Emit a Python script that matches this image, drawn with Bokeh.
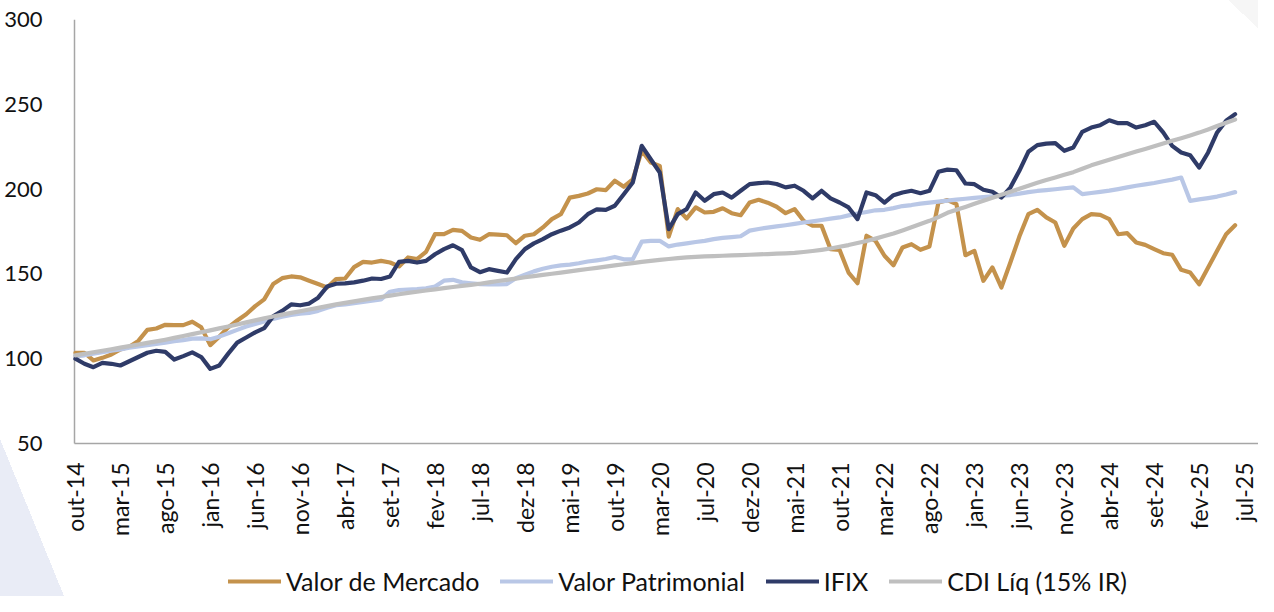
import math
from bokeh.plotting import figure
from bokeh.models import Range1d, FixedTicker, Legend, LegendItem, ColumnDataSource
from bokeh.embed import file_html
from bokeh.resources import INLINE
from bokeh.core.properties import value

tick_labels = ["out-14", "mar-15", "ago-15", "jan-16", "jun-16", "nov-16", "abr-17", "set-17",
               "fev-18", "jul-18", "dez-18", "mai-19", "out-19", "mar-20", "jul-20", "dez-20",
               "mai-21", "out-21", "mar-22", "ago-22", "jan-23", "jun-23", "nov-23", "abr-24",
               "set-24", "fev-25", "jul-25"]

valor_mercado = [
    103.5, 103.5, 99, 100.5, 102.5, 105.5, 107, 110.5, 117, 117.8,
    120, 119.8, 119.8, 121.8, 118.5, 108, 113, 118.5, 122.5, 126.2,
    131, 135, 144, 147.5, 148.5, 148, 146, 144, 142, 146.9,
    147.3, 154, 157.1, 156.7, 157.7, 156.7, 154.4, 159.7, 158.7, 163,
    173.4, 173.4, 176, 175.4, 171.5, 170.1, 173.4, 173.2, 172.8, 168.1,
    172.5, 173.4, 177.4, 182.3, 185.2, 195, 196, 197.4, 199.9, 199.4,
    204.9, 201.4, 205.8, 222.6, 215.7, 213.7, 172, 188.2, 182.7, 189.2,
    186.2, 186.6, 188.7, 185.8, 184.6, 192.1, 193.7, 192, 189.6, 185.8,
    188.2, 181.3, 178.4, 178.4, 164.6, 164.2, 150.8, 144.5, 172.5, 169.5,
    160.7, 155.1, 165.6, 167.5, 164.2, 166.2, 192.1, 193.5, 191.1, 161,
    163.6, 145.9, 153.8, 142, 156.7, 172, 185.2, 187.8, 183.3, 180.3,
    166.6, 176.8, 182.3, 185.2, 184.8, 182.3, 173.4, 174, 168.5, 167.1,
    164.6, 162.2, 161.3, 152.4, 150.8, 143.9, 153.8, 163.6, 173.4, 178.7]

valor_patrimonial = [
    101.3, 102, 103, 103.8, 104.7, 105.5, 106.5, 107.3, 108, 108.7,
    109.5, 110.3, 111, 111.8, 112, 111.5, 113, 115, 117, 119,
    120.5, 122, 123.5, 124.8, 125.8, 126.5, 127, 128.2, 130, 131.5,
    132, 132.8, 133.5, 134.2, 135, 139.5, 140.5, 140.8, 141, 141.5,
    142.5, 146, 146.5, 145, 144.5, 144, 143.8, 143.8, 144, 147.5,
    149.5, 151.5, 153, 154.2, 155, 155.5, 156.3, 157.3, 158, 158.8,
    160, 158.6, 158.6, 169, 169.5, 169.5, 166.2, 167.3, 168, 168.8,
    169.5, 170.5, 171.2, 171.7, 172.2, 175.5, 176.5, 177.3, 178, 178.7,
    179.5, 180.3, 181, 181.8, 182.6, 183.3, 184.5, 185.6, 186.5, 187.5,
    187.8, 188.8, 190, 190.6, 191.4, 192, 192.6, 193.2, 193.8, 194.3,
    194.8, 195.3, 195.7, 196.1, 196.5, 197.3, 198.2, 198.9, 199.4, 199.9,
    200.5, 201, 197, 197.7, 198.4, 199.1, 200, 201, 202, 202.8,
    203.6, 204.6, 205.6, 206.8, 193.1, 193.9, 194.7, 195.6, 196.8, 198.2]

ifix = [
    100, 97, 95, 97.5, 97, 96, 98.5, 101, 103.5, 104.7,
    104, 99.5, 101.5, 103.7, 101, 94, 96, 103, 109.5, 112.5,
    115.5, 118, 125, 128.2, 132, 131.5, 132.5, 136, 142.5, 144.2,
    144.4, 145, 146, 147.3, 147, 148.5, 157.1, 157.7, 156.7, 157.7,
    161.6, 164.6, 166.9, 164, 153.8, 151, 152.8, 151.8, 150.8, 158.7,
    164.6, 168, 170.5, 173.4, 175.5, 177.4, 180.3, 185.2, 188.1, 187.8,
    190.2, 197, 203.9, 225.5, 217.6, 209.8, 176.4, 185.2, 188.2, 198,
    193.1, 197, 198, 195, 199, 202.9, 203.5, 203.9, 203, 201,
    202, 199, 194.5, 199, 194.5, 192.1, 189.2, 182.3, 198, 196.4,
    192, 196.4, 198, 199, 197.6, 199, 210.2, 211.5, 211.1, 203.3,
    202.9, 199.6, 198.4, 195, 200.9, 210.8, 222, 225.9, 226.8, 227.1,
    222.6, 224.5, 233.8, 236.3, 237.7, 240.6, 238.9, 238.9, 236.3, 237.7,
    239.7, 233.4, 225.5, 221.6, 220, 212.7, 221.6, 233.4, 240.3, 244.2]

cdi_liq = [
    102, 102.9, 103.8, 104.7, 105.6, 106.5, 107.4, 108.4, 109.3, 110.2,
    111.2, 112.3, 113.4, 114.5, 115.6, 116.7, 117.9, 119, 120.2, 121.4,
    122.6, 123.8, 124.9, 126, 127, 128, 129, 130, 131, 132,
    132.9, 133.8, 134.7, 135.6, 136.4, 137.2, 138, 138.8, 139.5, 140.2,
    140.9, 141.6, 142.3, 142.9, 143.5, 144.2, 145, 145.8, 146.5, 147.2,
    148, 148.7, 149.4, 150.1, 150.8, 151.5, 152.2, 152.9, 153.6, 154.3,
    155, 155.7, 156.4, 157.1, 157.7, 158.3, 158.8, 159.3, 159.7, 160,
    160.3, 160.5, 160.7, 160.9, 161.1, 161.3, 161.5, 161.7, 161.9, 162.1,
    162.4, 162.9, 163.5, 164.2, 165, 166, 167, 168.2, 169.4, 170.8,
    172.3, 173.8, 175.6, 177.5, 179.4, 181.3, 183.5, 186, 187.8, 189.5,
    191.3, 193.1, 194.9, 196.6, 198.4, 200.2, 202, 203.7, 205.3, 206.8,
    208.4, 210, 212, 214, 215.7, 217.3, 219, 220.6, 222.2, 223.7,
    225.3, 226.9, 228.5, 230, 231.6, 233.3, 235.2, 237.2, 239.1, 241]

series_names = ["Valor de Mercado", "Valor Patrimonial", "IFIX", "CDI Líq (15% IR)"]
series_colors = ["#C4924C", "#B9C7E6", "#2F3B68", "#BFBFBF"]
series_values = [valor_mercado, valor_patrimonial, ifix, cdi_liq]
y_ticks = [50, 100, 150, 200, 250, 300]

FONT = "Lato"
TEXT = "#111111"
AXIS = "#A6A6A6"

# layout (pixels)
FIG_W, FIG_H = 1258, 596
TOP = 19                # canvas y of the 300 line
PLOT_H = 424            # pixel height between 50 and 300
FRAME_LEFT = 58         # frame starts a little left of the value axis so edge labels are not clipped
AXIS_PX = 74            # canvas x of the value axis line
PX_PER_CAT = 8.99       # pixels per month

Y_MIN, Y_MAX = 50, 300
px_per_unit = PLOT_H / (Y_MAX - Y_MIN)
y_floor = Y_MIN - (FIG_H - TOP - PLOT_H) / px_per_unit   # frame reaches the canvas bottom
AXIS_X = -0.1
x_start = AXIS_X - (AXIS_PX - FRAME_LEFT) / PX_PER_CAT
x_end = x_start + (FIG_W - FRAME_LEFT) / PX_PER_CAT

idx = list(range(len(valor_mercado)))
tick_pos = [5 * k for k in range(len(tick_labels))]

p = figure(width=FIG_W, height=FIG_H, output_backend="svg", toolbar_location=None,
           x_range=Range1d(x_start, x_end), y_range=Range1d(y_floor, Y_MAX),
           min_border_left=FRAME_LEFT, min_border_right=0, min_border_top=TOP, min_border_bottom=0)
p.outline_line_color = None
p.xgrid.visible = False
p.ygrid.visible = False
p.background_fill_alpha = 0
p.border_fill_alpha = 0
p.xaxis.visible = False
# decorative corner shapes of the slide background, drawn as CSS behind the transparent canvas
p.styles = {
    "background-color": "white",
    "background-image": ("linear-gradient(to top right, #E9ECF6 50%, rgba(255,255,255,0) 50%), "
                         "linear-gradient(to top right, rgba(255,255,255,0) 50%, #F6F6F6 50%)"),
    "background-size": "64px 157px, 30px 28px",
    "background-position": "left bottom, right top",
    "background-repeat": "no-repeat",
}

ya = p.yaxis[0]
ya.ticker = FixedTicker(ticks=y_ticks)
ya.major_label_standoff = AXIS_PX - FRAME_LEFT
ya.major_label_text_font = FONT
ya.major_label_text_font_size = "22px"
ya.major_label_text_color = TEXT
ya.major_tick_in = 0
ya.major_tick_out = 0
ya.minor_tick_in = 0
ya.minor_tick_out = 0
ya.axis_line_color = None

# axis lines: value axis from 50 to 300, category axis along the 50 line
p.segment(x0=[AXIS_X, AXIS_X], y0=[Y_MIN, Y_MIN], x1=[AXIS_X, x_end], y1=[Y_MAX, Y_MIN],
          line_color=AXIS, line_width=1.5)

# rotated month labels under the category axis
lab_src = ColumnDataSource(dict(x=tick_pos, y=[Y_MIN] * len(tick_pos), t=tick_labels))
p.text(x="x", y="y", text="t", source=lab_src, angle=math.pi / 2, y_offset=19,
       text_align="right", text_baseline="middle", text_font=value(FONT),
       text_font_size="23px", text_color=TEXT)

items = []
for name, col, vals in zip(series_names, series_colors, series_values):
    r = p.line(idx, vals, line_color=col, line_width=4.2, line_join="round", line_cap="round")
    items.append(LegendItem(label=name, renderers=[r]))

legend = Legend(items=items, orientation="horizontal", location=(236 - 8 - FRAME_LEFT, 0),
                label_text_font=FONT, label_text_font_size="25px", label_text_color=TEXT,
                glyph_width=53, glyph_height=24, label_standoff=5, spacing=21,
                padding=0, margin=0, border_line_color=None, background_fill_alpha=0)
p.add_layout(legend)

open("out.html", "w").write(file_html(p, INLINE))
